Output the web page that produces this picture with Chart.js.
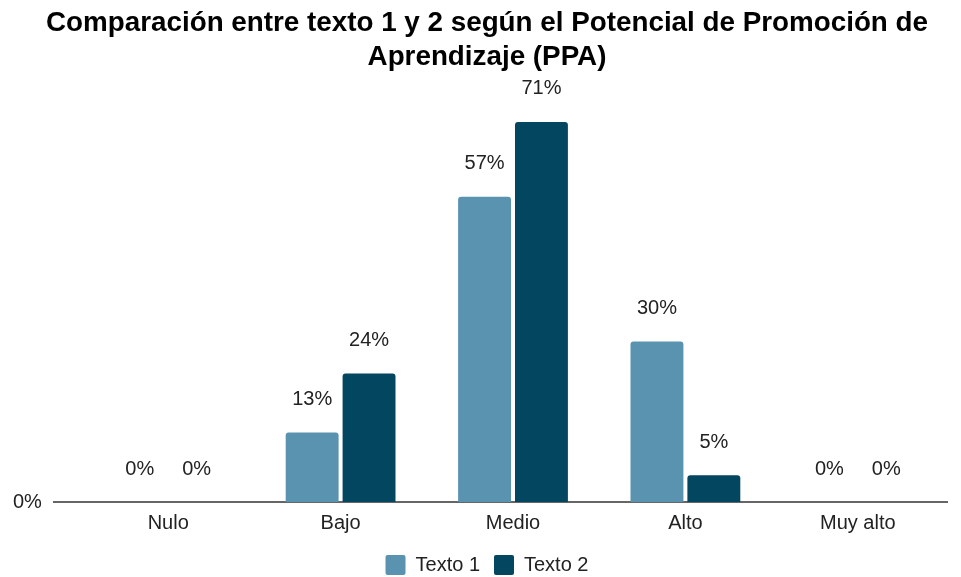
<!DOCTYPE html>
<html>
<head>
<meta charset="utf-8">
<script src="https://cdn.jsdelivr.net/npm/chart.js@4"></script>
<style>
  html, body { margin: 0; padding: 0; background: #fff; }
  #wrap { width: 961px; height: 577px; }
</style>
</head>
<body>
<div id="wrap"><canvas id="ppaChart"></canvas></div>
<script>
const categorias = ["Nulo", "Bajo", "Medio", "Alto", "Muy alto"];
const texto1 = [0, 13, 57, 30, 0];
const texto2 = [0, 24, 71, 5, 0];
const yTicks = [0];

const FONT = "'Liberation Sans', Arial, sans-serif";

// etiquetas de valor sobre cada barra
const etiquetas = {
  id: "etiquetas",
  afterDatasetsDraw(chart) {
    const ctx = chart.ctx;
    ctx.save();
    ctx.font = "20px " + FONT;
    ctx.fillStyle = "#222";
    ctx.textAlign = "center";
    ctx.textBaseline = "middle";
    chart.data.datasets.forEach((ds, i) => {
      chart.getDatasetMeta(i).data.forEach((bar, j) => {
        ctx.fillText(ds.data[j] + "%", bar.x, bar.y - 33);
      });
    });
    ctx.restore();
  }
};

// linea base del eje
const lineaBase = {
  id: "lineaBase",
  beforeDatasetsDraw(chart) {
    const ctx = chart.ctx;
    const y = chart.scales.y.getPixelForValue(0);
    ctx.save();
    ctx.strokeStyle = "#333";
    ctx.lineWidth = 1.5;
    ctx.beginPath();
    ctx.moveTo(53, y);
    ctx.lineTo(chart.chartArea.right + 4, y);
    ctx.stroke();
    ctx.restore();
  }
};

new Chart(document.getElementById("ppaChart"), {
  type: "bar",
  data: {
    labels: categorias,
    datasets: [
      {
        label: "Texto 1",
        data: texto1,
        backgroundColor: "#5a93b0",
        borderRadius: 3,
        borderSkipped: "bottom",
        categoryPercentage: 0.66,
        barPercentage: 0.93
      },
      {
        label: "Texto 2",
        data: texto2,
        backgroundColor: "#03465f",
        borderRadius: 3,
        borderSkipped: "bottom",
        categoryPercentage: 0.66,
        barPercentage: 0.93
      }
    ]
  },
  options: {
    responsive: true,
    maintainAspectRatio: false,
    animation: false,
    layout: { padding: { top: 7, right: 17, left: 30, bottom: -8 } },
    plugins: {
      title: {
        display: true,
        text: ["Comparación entre texto 1 y 2 según el Potencial de Promoción de", "Aprendizaje (PPA)"],
        color: "#000",
        font: { family: FONT, size: 27.8, weight: "bold", lineHeight: 1.2 },
        padding: { top: 0, bottom: 0 }
      },
      legend: {
        position: "bottom",
        labels: {
          color: "#222",
          font: { family: FONT, size: 20 },
          boxWidth: 20,
          boxHeight: 20,
          useBorderRadius: true,
          borderRadius: 2,
          padding: 14
        }
      },
      tooltip: { enabled: false }
    },
    scales: {
      x: {
        grid: { display: false, drawTicks: false },
        border: { display: false },
        afterFit: s => { s.height = 39; },
        ticks: { color: "#222", font: { family: FONT, size: 20 }, padding: 9 }
      },
      y: {
        min: 0,
        max: 80,
        grid: { display: false, drawTicks: false },
        border: { display: false },
        afterBuildTicks: s => { s.ticks = yTicks.map(v => ({ value: v })); },
        afterFit: s => { s.width = 52; },
        ticks: {
          color: "#222",
          font: { family: FONT, size: 20 },
          mirror: true,
          padding: -69,
          callback: v => v + "%"
        }
      }
    }
  },
  plugins: [etiquetas, lineaBase]
});
</script>
</body>
</html>
